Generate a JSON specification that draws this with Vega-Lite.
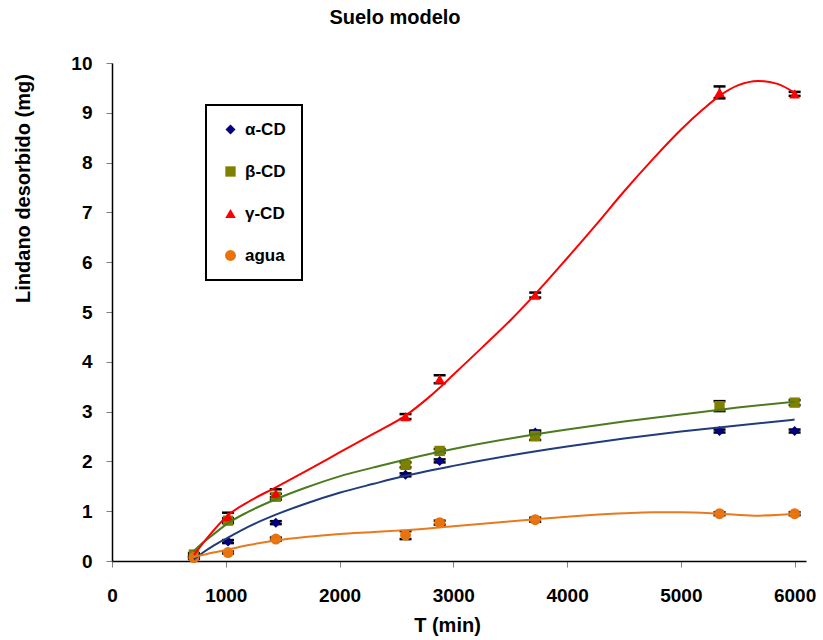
{
  "$schema": "https://vega.github.io/schema/vega-lite/v6.json",
  "width": 694,
  "height": 498,
  "autosize": {"type": "none"},
  "padding": {"left": 112, "top": 63, "right": 17, "bottom": 79},
  "background": "white",
  "title": {"text": "Suelo modelo", "fontSize": 20, "font": "Liberation Sans", "fontWeight": "bold", "anchor": "middle", "frame": "group", "dx": -64, "offset": 26, "color": "black"},
  "datasets": {
    "points": [
      {"serie": "α-CD", "t": 720, "y": 0.06, "err": 0.02},
      {"serie": "α-CD", "t": 1020, "y": 0.39, "err": 0.03},
      {"serie": "α-CD", "t": 1440, "y": 0.77, "err": 0.03},
      {"serie": "α-CD", "t": 2580, "y": 1.73, "err": 0.03},
      {"serie": "α-CD", "t": 2880, "y": 2.01, "err": 0.03},
      {"serie": "α-CD", "t": 3720, "y": 2.58, "err": 0.04},
      {"serie": "α-CD", "t": 5340, "y": 2.61, "err": 0.03},
      {"serie": "α-CD", "t": 6000, "y": 2.61, "err": 0.03},
      {"serie": "β-CD", "t": 720, "y": 0.13, "err": 0.03},
      {"serie": "β-CD", "t": 1020, "y": 0.81, "err": 0.05},
      {"serie": "β-CD", "t": 1440, "y": 1.29, "err": 0.06},
      {"serie": "β-CD", "t": 2580, "y": 1.93, "err": 0.05},
      {"serie": "β-CD", "t": 2880, "y": 2.21, "err": 0.04},
      {"serie": "β-CD", "t": 3720, "y": 2.51, "err": 0.08},
      {"serie": "β-CD", "t": 5340, "y": 3.11, "err": 0.1},
      {"serie": "β-CD", "t": 6000, "y": 3.18, "err": 0.05},
      {"serie": "γ-CD", "t": 720, "y": 0.11, "err": 0.03},
      {"serie": "γ-CD", "t": 1020, "y": 0.89, "err": 0.08},
      {"serie": "γ-CD", "t": 1440, "y": 1.36, "err": 0.08},
      {"serie": "γ-CD", "t": 2580, "y": 2.9, "err": 0.05},
      {"serie": "γ-CD", "t": 2880, "y": 3.65, "err": 0.08},
      {"serie": "γ-CD", "t": 3720, "y": 5.34, "err": 0.05},
      {"serie": "γ-CD", "t": 5340, "y": 9.41, "err": 0.12},
      {"serie": "γ-CD", "t": 6000, "y": 9.38, "err": 0.04},
      {"serie": "agua", "t": 720, "y": 0.07, "err": 0.02},
      {"serie": "agua", "t": 1020, "y": 0.17, "err": 0.02},
      {"serie": "agua", "t": 1440, "y": 0.44, "err": 0.03},
      {"serie": "agua", "t": 2580, "y": 0.52, "err": 0.08},
      {"serie": "agua", "t": 2880, "y": 0.77, "err": 0.04},
      {"serie": "agua", "t": 3720, "y": 0.83, "err": 0.04},
      {"serie": "agua", "t": 5340, "y": 0.95, "err": 0.03},
      {"serie": "agua", "t": 6000, "y": 0.95, "err": 0.03}
    ],
    "curves": [
      {"serie": "α-CD", "t": 720, "y": 0.03},
      {"serie": "α-CD", "t": 800, "y": 0.17},
      {"serie": "α-CD", "t": 900, "y": 0.32},
      {"serie": "α-CD", "t": 1020, "y": 0.47},
      {"serie": "α-CD", "t": 1200, "y": 0.69},
      {"serie": "α-CD", "t": 1440, "y": 0.93},
      {"serie": "α-CD", "t": 1700, "y": 1.15},
      {"serie": "α-CD", "t": 2000, "y": 1.37},
      {"serie": "α-CD", "t": 2300, "y": 1.55},
      {"serie": "α-CD", "t": 2580, "y": 1.71},
      {"serie": "α-CD", "t": 3000, "y": 1.91},
      {"serie": "α-CD", "t": 3500, "y": 2.12},
      {"serie": "α-CD", "t": 4000, "y": 2.3},
      {"serie": "α-CD", "t": 4500, "y": 2.46},
      {"serie": "α-CD", "t": 5000, "y": 2.6},
      {"serie": "α-CD", "t": 5500, "y": 2.72},
      {"serie": "α-CD", "t": 6000, "y": 2.84},
      {"serie": "β-CD", "t": 720, "y": 0.2},
      {"serie": "β-CD", "t": 800, "y": 0.37},
      {"serie": "β-CD", "t": 900, "y": 0.55},
      {"serie": "β-CD", "t": 1020, "y": 0.76},
      {"serie": "β-CD", "t": 1200, "y": 0.99},
      {"serie": "β-CD", "t": 1440, "y": 1.24},
      {"serie": "β-CD", "t": 1700, "y": 1.47},
      {"serie": "β-CD", "t": 2000, "y": 1.7},
      {"serie": "β-CD", "t": 2300, "y": 1.88},
      {"serie": "β-CD", "t": 2580, "y": 2.04},
      {"serie": "β-CD", "t": 3000, "y": 2.25},
      {"serie": "β-CD", "t": 3500, "y": 2.46},
      {"serie": "β-CD", "t": 4000, "y": 2.64},
      {"serie": "β-CD", "t": 4500, "y": 2.8},
      {"serie": "β-CD", "t": 5000, "y": 2.94},
      {"serie": "β-CD", "t": 5500, "y": 3.08},
      {"serie": "β-CD", "t": 6000, "y": 3.2},
      {"serie": "γ-CD", "t": 720, "y": 0.12},
      {"serie": "γ-CD", "t": 850, "y": 0.5},
      {"serie": "γ-CD", "t": 1020, "y": 0.92},
      {"serie": "γ-CD", "t": 1200, "y": 1.19},
      {"serie": "γ-CD", "t": 1440, "y": 1.48},
      {"serie": "γ-CD", "t": 1700, "y": 1.8},
      {"serie": "γ-CD", "t": 2000, "y": 2.18},
      {"serie": "γ-CD", "t": 2300, "y": 2.56},
      {"serie": "γ-CD", "t": 2580, "y": 2.92},
      {"serie": "γ-CD", "t": 2750, "y": 3.22},
      {"serie": "γ-CD", "t": 2880, "y": 3.48},
      {"serie": "γ-CD", "t": 3000, "y": 3.74},
      {"serie": "γ-CD", "t": 3250, "y": 4.28},
      {"serie": "γ-CD", "t": 3500, "y": 4.83},
      {"serie": "γ-CD", "t": 3720, "y": 5.36},
      {"serie": "γ-CD", "t": 4000, "y": 6.08},
      {"serie": "γ-CD", "t": 4250, "y": 6.74},
      {"serie": "γ-CD", "t": 4500, "y": 7.42},
      {"serie": "γ-CD", "t": 4750, "y": 8.06},
      {"serie": "γ-CD", "t": 5000, "y": 8.66},
      {"serie": "γ-CD", "t": 5200, "y": 9.08},
      {"serie": "γ-CD", "t": 5340, "y": 9.34},
      {"serie": "γ-CD", "t": 5500, "y": 9.55},
      {"serie": "γ-CD", "t": 5680, "y": 9.64},
      {"serie": "γ-CD", "t": 5850, "y": 9.58},
      {"serie": "γ-CD", "t": 6000, "y": 9.4},
      {"serie": "agua", "t": 720, "y": 0.08},
      {"serie": "agua", "t": 850, "y": 0.15},
      {"serie": "agua", "t": 1020, "y": 0.23},
      {"serie": "agua", "t": 1200, "y": 0.32},
      {"serie": "agua", "t": 1440, "y": 0.41},
      {"serie": "agua", "t": 1700, "y": 0.48},
      {"serie": "agua", "t": 2000, "y": 0.54},
      {"serie": "agua", "t": 2300, "y": 0.58},
      {"serie": "agua", "t": 2580, "y": 0.62},
      {"serie": "agua", "t": 3000, "y": 0.7},
      {"serie": "agua", "t": 3360, "y": 0.77},
      {"serie": "agua", "t": 3720, "y": 0.84},
      {"serie": "agua", "t": 4000, "y": 0.89},
      {"serie": "agua", "t": 4500, "y": 0.96},
      {"serie": "agua", "t": 4750, "y": 0.98},
      {"serie": "agua", "t": 5000, "y": 0.98},
      {"serie": "agua", "t": 5340, "y": 0.95},
      {"serie": "agua", "t": 5650, "y": 0.91},
      {"serie": "agua", "t": 6000, "y": 0.95}
    ]
  },
  "encoding": {
    "x": {
      "field": "t", "type": "quantitative",
      "scale": {"domain": [0, 6100], "nice": false},
      "axis": {"title": "T (min)", "format": "d", "values": [0, 1000, 2000, 3000, 4000, 5000, 6000], "titleX": 335, "titleY": 70, "titleBaseline": "alphabetic", "titleAlign": "center", "labelPadding": 19, "labelFlush": false}
    },
    "y": {
      "field": "y", "type": "quantitative",
      "scale": {"domain": [0, 10], "nice": false},
      "axis": {"title": "Lindano desorbido (mg)", "values": [0, 1, 2, 3, 4, 5, 6, 7, 8, 9, 10], "titleX": -89, "titleY": 125, "titleAngle": -90, "titleAlign": "center", "titleBaseline": "middle", "labelPadding": 14}
    }
  },
  "layer": [
    {
      "data": {"name": "points"},
      "mark": {"type": "errorbar", "ticks": {"size": 12, "thickness": 2.5, "color": "black", "opacity": 1}, "rule": {"strokeWidth": 1.5, "color": "black", "opacity": 1}, "color": "black"},
      "encoding": {
        "yError": {"field": "err"}
      }
    },
    {
      "data": {"name": "points"},
      "mark": {"type": "point", "filled": true, "opacity": 1, "strokeWidth": 0},
      "encoding": {
        "color": {
          "field": "serie", "type": "nominal",
          "scale": {"domain": ["α-CD", "β-CD", "γ-CD", "agua"], "range": ["#000080", "#808000", "#FF0000", "#E8720C"]},
          "legend": {"title": null, "orient": "none", "legendX": 94, "legendY": 42}
        },
        "shape": {
          "field": "serie", "type": "nominal",
          "scale": {"domain": ["α-CD", "β-CD", "γ-CD", "agua"], "range": ["diamond", "square", "triangle-up", "circle"]},
          "legend": {"title": null, "orient": "none", "legendX": 94, "legendY": 42}
        },
        "size": {
          "field": "serie", "type": "nominal",
          "scale": {"domain": ["α-CD", "β-CD", "γ-CD", "agua"], "range": [100, 120, 120, 160]},
          "legend": null
        }
      }
    },
    {
      "data": {"name": "curves"},
      "mark": {"type": "line", "interpolate": "monotone", "strokeWidth": 2},
      "encoding": {
        "stroke": {
          "field": "serie", "type": "nominal",
          "scale": {"domain": ["α-CD", "β-CD", "γ-CD", "agua"], "range": ["#203C7C", "#4B7B1E", "#FF0000", "#E87A1E"]},
          "legend": null
        }
      }
    }
  ],
  "config": {
    "view": {"stroke": null},
    "font": "Liberation Sans",
    "axis": {
      "grid": false,
      "domainColor": "black",
      "domainWidth": 1.5,
      "tickColor": "#808080",
      "tickSize": 6,
      "tickWidth": 1,
      "labelFont": "Liberation Sans",
      "labelFontWeight": "bold",
      "labelFontSize": 19,
      "labelColor": "black",
      "titleFont": "Liberation Sans",
      "titleFontWeight": "bold",
      "titleFontSize": 20,
      "titleColor": "black"
    },
    "legend": {
      "labelFont": "Liberation Sans",
      "labelFontWeight": "bold",
      "labelFontSize": 17,
      "labelColor": "black",
      "padding": 16,
      "rowPadding": 24,
      "labelOffset": 6,
      "symbolSize": 75,
      "symbolStrokeWidth": 0,
      "strokeColor": "black",
      "strokeWidth": 2,
      "fillColor": "white"
    }
  }
}
